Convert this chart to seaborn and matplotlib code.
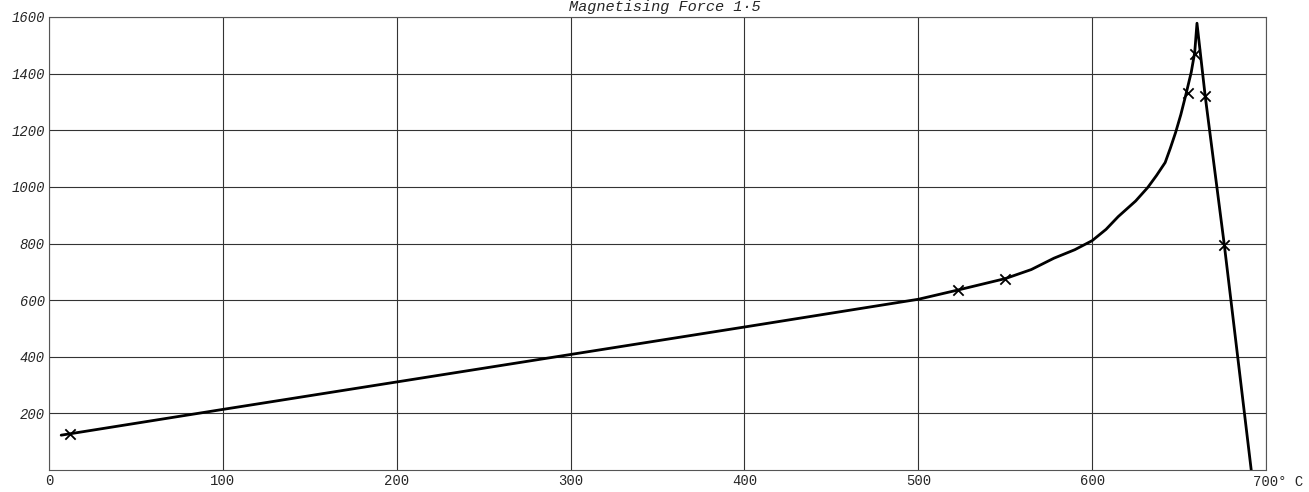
import numpy as np
import pandas as pd
import matplotlib
matplotlib.use('Agg')
import matplotlib.pyplot as plt
import seaborn as sns

# curve (temperature in deg C, permeability)
temps = [7, 100, 200, 300, 400, 500, 523, 550, 565, 578, 590, 600, 608, 615, 625, 632, 637,
         642, 645, 648, 651, 654, 657, 659, 660.3, 665, 676, 691.5]
vals = [123, 214, 311, 408, 505, 603, 636, 676, 708, 748, 778, 810, 850, 895, 950, 998, 1040,
        1086, 1137, 1192, 1255, 1328, 1405, 1475, 1578, 1322, 796, 0]

# observed points (crosses)
pt_temps = [12, 523, 550, 655, 659, 665, 676]
pt_vals = [128, 636, 676, 1330, 1471, 1322, 796]

x_ticks = [0, 100, 200, 300, 400, 500, 600]
y_ticks = [200, 400, 600, 800, 1000, 1200, 1400, 1600]

sns.set_style('white')
plt.rcParams['font.family'] = ['Liberation Mono', 'DejaVu Sans']

df = pd.DataFrame({'temp': temps, 'mu': vals})
pts = pd.DataFrame({'temp': pt_temps, 'mu': pt_vals})

fig = plt.figure(figsize=(13.09, 4.92), dpi=100)
ax = fig.add_axes([49 / 1309, 1 - 470 / 492, 1217 / 1309, 453 / 492])

sns.lineplot(data=df, x='temp', y='mu', sort=False, estimator=None,
             color='black', lw=2, ax=ax)
sns.scatterplot(data=pts, x='temp', y='mu', marker='x', s=55,
                color='black', linewidth=1.3, ax=ax, zorder=5)

ax.set_xlim(0, 700)
ax.set_ylim(0, 1600)
ax.set_xticks(x_ticks + [700])
ax.set_xticklabels(x_ticks + [''], fontsize=10)
ax.set_yticks(y_ticks)
ax.set_yticklabels(y_ticks, fontsize=10, style='italic')
ax.tick_params(axis='both', length=0, pad=3)
ax.grid(True, color='#333333', lw=0.8)
for s in ax.spines.values():
    s.set_color('#555555')
    s.set_linewidth(0.8)
ax.set_xlabel('')
ax.set_ylabel('')

ax.text(692.5, -0.012, '700° C', transform=ax.get_xaxis_transform(),
        ha='left', va='top', fontsize=10)
fig.text(0.508, 1.0, 'Magnetising Force 1·5', ha='center', va='top',
         fontsize=11, style='italic')

fig.savefig('out.png', dpi=100)
